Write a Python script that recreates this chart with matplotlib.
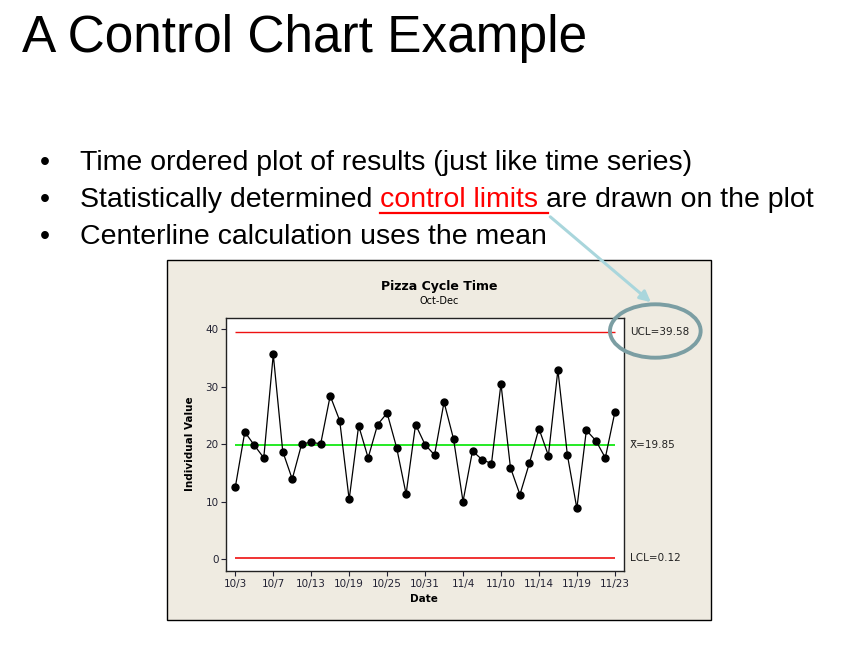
import matplotlib
matplotlib.use("Agg")
import matplotlib.pyplot as plt
from matplotlib.patches import Rectangle, Ellipse, FancyArrowPatch
from matplotlib.lines import Line2D

cycle_time = [12.5, 22.1, 19.8, 17.6, 35.6, 18.7, 13.9, 20.05, 20.3, 20.05,
              28.4, 24.1, 10.35, 23.2, 17.6, 23.4, 25.4, 19.4, 11.3, 23.4,
              19.9, 18.1, 27.3, 20.9, 10.0, 18.8, 17.3, 16.6, 30.5, 15.9,
              11.2, 16.7, 22.7, 18.0, 32.9, 18.1, 8.8, 22.4, 20.6, 17.6, 25.5]
date_labels = ['10/3', '10/7', '10/13', '10/19', '10/25', '10/31',
               '11/4', '11/10', '11/14', '11/19', '11/23']
ucl = 39.58
center = 19.85
lcl = 0.12
y_ticks = [0, 10, 20, 30, 40]

bullet_1 = 'Time ordered plot of results (just like time series)'
bullet_2 = ['Statistically determined ', 'control limits ', 'are drawn on the plot']
bullet_3 = 'Centerline calculation uses the mean'

W, H = 845, 651
slide_font = 'Liberation Sans'


def fx(px):
    return px / W


def fy(py):
    return 1 - py / H


fig = plt.figure(figsize=(W / 100, H / 100), dpi=100)
fig.patch.set_facecolor('white')

# slide title and bullets
fig.text(fx(22), fy(52), 'A Control Chart Example', fontsize=37,
         family=slide_font, va='baseline', ha='left')

for y, txt in [(170, bullet_1), (244, bullet_3)]:
    fig.text(fx(40), fy(y), '\u2022', fontsize=20.5, family=slide_font, va='baseline')
    fig.text(fx(80), fy(y), txt, fontsize=20.5, family=slide_font, va='baseline')

fig.text(fx(40), fy(207), '\u2022', fontsize=20.5, family=slide_font, va='baseline')
renderer = fig.canvas.get_renderer()
x = 80
red_start = red_end = None
for i, part in enumerate(bullet_2):
    col = 'red' if i == 1 else 'black'
    t = fig.text(fx(x), fy(207), part, fontsize=20.5, family=slide_font,
                 va='baseline', color=col)
    bb = t.get_window_extent(renderer)
    if i == 1:
        red_start, red_end = x, bb.x1
    x = bb.x1
fig.add_artist(Line2D([fx(red_start), fx(red_end + 2)], [fy(213.5), fy(213.5)],
                      color='red', lw=1.6, transform=fig.transFigure))

# minitab-style chart panel
fig.add_artist(Rectangle((fx(167), fy(620)), fx(711) - fx(167), fy(260) - fy(620),
                         transform=fig.transFigure, facecolor='#efebe1',
                         edgecolor='black', lw=1.0, zorder=-5))

ax = fig.add_axes([fx(226.3), fy(571), fx(624.3) - fx(226.3), fy(317.7) - fy(571)])
ax.set_facecolor('white')
idx = list(range(len(cycle_time)))
ax.plot(idx, cycle_time, color='black', lw=0.9, marker='o', ms=5, zorder=3)
ax.hlines(ucl, 0, len(cycle_time) - 1, color='#ee1111', lw=1.0)
ax.hlines(lcl, 0, len(cycle_time) - 1, color='#ee1111', lw=1.2)
ax.hlines(center, 0, len(cycle_time) - 1, color='#00e600', lw=1.2)

ax.set_xlim(-0.95, 41.0)
ax.set_ylim(-2.1, 42.0)
ax.set_xticks(list(range(0, len(cycle_time), 4)))
ax.set_xticklabels(date_labels)
ax.set_yticks(y_ticks)
ax.tick_params(direction='out', length=3.5, width=0.8, pad=2,
               labelsize=7.5, colors='#222233')
for s in ax.spines.values():
    s.set_color('#222222')
    s.set_linewidth(1.0)

lab_x = (630 - 226.3) / (624.3 - 226.3)
for val, txt in [(ucl, 'UCL=39.58'), (center, 'X\u0304=19.85'), (lcl, 'LCL=0.12')]:
    ax.text(lab_x, val, txt, transform=ax.get_yaxis_transform(),
            fontsize=7.5, va='center', ha='left', color='#222222', clip_on=False)

fig.text(fx(439), fy(290), 'Pizza Cycle Time', fontsize=9, weight='bold',
         ha='center', va='baseline')
fig.text(fx(439), fy(304), 'Oct-Dec', fontsize=7, ha='center', va='baseline')
fig.text(fx(190), fy(444), 'Individual Value', fontsize=7.5, weight='bold',
         rotation=90, ha='center', va='center')
fig.text(fx(424), fy(599), 'Date', fontsize=7.5, weight='bold', ha='center', va='center')

# callout: arrow from the underline to the circled UCL
fig.add_artist(FancyArrowPatch((fx(red_end + 2), fy(215)), (fx(653), fy(304)),
                               transform=fig.transFigure, arrowstyle='-|>',
                               mutation_scale=16, color='#a9d6dc', lw=2.2, zorder=6))
fig.add_artist(Ellipse((fx(655.3), fy(331)), fx(90.7), 53.4 / H,
                       transform=fig.transFigure, facecolor='none',
                       edgecolor='#7b9ea3', lw=2.8, zorder=6))

fig.savefig('out.png', dpi=100)
